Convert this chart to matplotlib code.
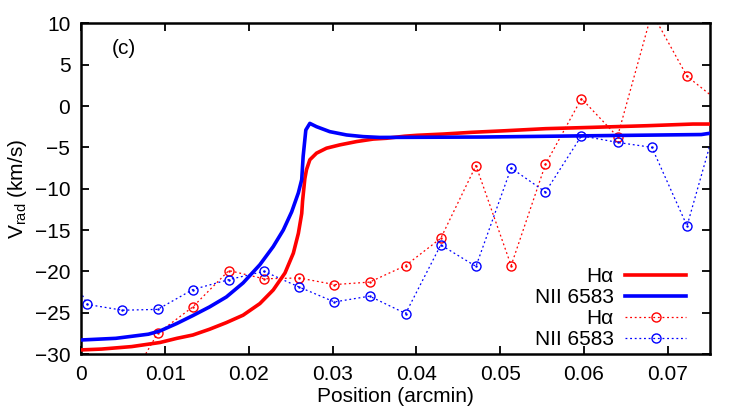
import matplotlib
matplotlib.use("Agg")
import matplotlib.pyplot as plt

plt.rcParams['font.family'] = ['Liberation Sans', 'DejaVu Sans']
plt.rcParams['mathtext.fontset'] = 'custom'
plt.rcParams['mathtext.rm'] = 'Liberation Sans'
plt.rcParams['mathtext.it'] = 'Liberation Sans:italic'

# Model curves (solid)
model_ha_x = [0.0, 0.0024, 0.006, 0.0094, 0.0114, 0.0133, 0.0153, 0.0173, 0.0193,
              0.0213, 0.0229, 0.0243, 0.0253, 0.0259, 0.0263, 0.0264, 0.02655, 0.02667,
              0.02687, 0.02727, 0.02807, 0.02926, 0.03085, 0.03284, 0.03482, 0.03642,
              0.0386, 0.0401, 0.0432, 0.0466, 0.0506, 0.0554, 0.0610, 0.0676, 0.0730,
              0.0750]
model_ha_y = [-29.5, -29.4, -29.1, -28.6, -28.1, -27.7, -27.0, -26.2, -25.3,
              -23.9, -22.25, -20.2, -17.8, -15.4, -13.0, -11.5, -10.0, -8.8,
              -7.7, -6.5, -5.7, -5.1, -4.7, -4.3, -4.0, -3.9,
              -3.65, -3.54, -3.39, -3.18, -2.99, -2.74, -2.58, -2.38, -2.18,
              -2.18]

model_nii_x = [0.0, 0.0041, 0.008, 0.0094, 0.0114, 0.0133, 0.0153, 0.0173, 0.0193,
               0.0213, 0.0229, 0.0241, 0.0251, 0.0259, 0.0263, 0.02647, 0.02679, 0.02727,
               0.02807, 0.02965, 0.03165, 0.03363, 0.03562, 0.0480, 0.0605, 0.0740,
               0.0750]
model_nii_y = [-28.3, -28.1, -27.6, -27.2, -26.3, -25.35, -24.3, -23.1, -21.4,
               -19.2, -17.0, -15.0, -12.8, -10.5, -8.9, -6.1, -2.9, -2.1,
               -2.5, -3.1, -3.5, -3.7, -3.8, -3.75, -3.6, -3.45,
               -3.3]

# Observed points (dotted with open circles)
obs_ha_x = [0.0049, 0.0091, 0.0133, 0.0176, 0.0218, 0.0260, 0.0302, 0.0344, 0.0387,
            0.0429, 0.0471, 0.0513, 0.0554, 0.0597, 0.0640, 0.0681, 0.0723, 0.0765]
obs_ha_y = [-34.8, -27.5, -24.3, -19.9, -20.9, -20.8, -21.6, -21.3, -19.3,
            -16.0, -7.2, -19.3, -7.05, 0.9, -3.7, 11.3, 3.6, 0.2]

obs_nii_x = [-0.0035, 0.0007, 0.0049, 0.0091, 0.0133, 0.0176, 0.0218, 0.0260, 0.0302,
             0.0344, 0.0387, 0.0429, 0.0471, 0.0513, 0.0554, 0.0597, 0.0640, 0.0681,
             0.0723, 0.0765]
obs_nii_y = [-16.0, -24.0, -24.7, -24.6, -22.2, -21.0, -20.0, -21.9, -23.7,
             -23.0, -25.1, -16.8, -19.4, -7.5, -10.4, -3.6, -4.4, -5.0,
             -14.5, 0.5]

x_ticks = [0, 0.01, 0.02, 0.03, 0.04, 0.05, 0.06, 0.07]
x_tick_labels = ["0", "0.01", "0.02", "0.03", "0.04", "0.05", "0.06", "0.07"]
y_ticks = [-30, -25, -20, -15, -10, -5, 0, 5, 10]

FS = 15

fig = plt.figure(figsize=(7.47, 4.17), dpi=100)
ax = fig.add_axes([0.109, 0.151, 0.841, 0.793])

RED = '#ff0000'
BLUE = '#0000ff'

ax.plot(model_ha_x, model_ha_y, color=RED, lw=2.6, label='H\u03b1', zorder=3)
ax.plot(model_nii_x, model_nii_y, color=BLUE, lw=2.6, label='NII 6583', zorder=3)
ax.plot(obs_ha_x, obs_ha_y, color=RED, lw=0.9, ls=(0, (1.5, 2.2)), marker='o', ms=6.5,
        mfc='none', mec=RED, mew=1.0, label='H\u03b1', zorder=2)
ax.plot(obs_nii_x, obs_nii_y, color=BLUE, lw=0.9, ls=(0, (1.5, 2.2)), marker='o', ms=6.5,
        mfc='none', mec=BLUE, mew=1.0, label='NII 6583', zorder=2)
ax.plot(obs_ha_x, obs_ha_y, ls='none', marker='.', ms=1.5, color=RED, zorder=2)
ax.plot(obs_nii_x, obs_nii_y, ls='none', marker='.', ms=1.5, color=BLUE, zorder=2)

ax.set_xlim(0, 0.075)
ax.set_ylim(-30, 10)
ax.set_xticks(x_ticks)
ax.set_xticklabels(x_tick_labels)
ax.set_yticks(y_ticks)
ax.tick_params(direction='in', length=6, width=1.3, top=True, right=True,
               labelsize=FS, pad=8, colors='black')
for s in ax.spines.values():
    s.set_linewidth(1.8)

ax.set_xlabel('Position (arcmin)', fontsize=FS, labelpad=2)
ax.set_ylabel('V$_{\\rm rad}$ (km/s)', fontsize=FS, labelpad=4)
ax.text(0.0485, 0.925, '(c)', transform=ax.transAxes, fontsize=FS, va='center', ha='left')

leg = ax.legend(loc='lower right', bbox_to_anchor=(0.962, 0.015), frameon=False,
                markerfirst=False, fontsize=FS, handlelength=2.9, handletextpad=0.55,
                labelspacing=0.1, borderpad=0, borderaxespad=0)

fig.savefig('out.png', dpi=100)
